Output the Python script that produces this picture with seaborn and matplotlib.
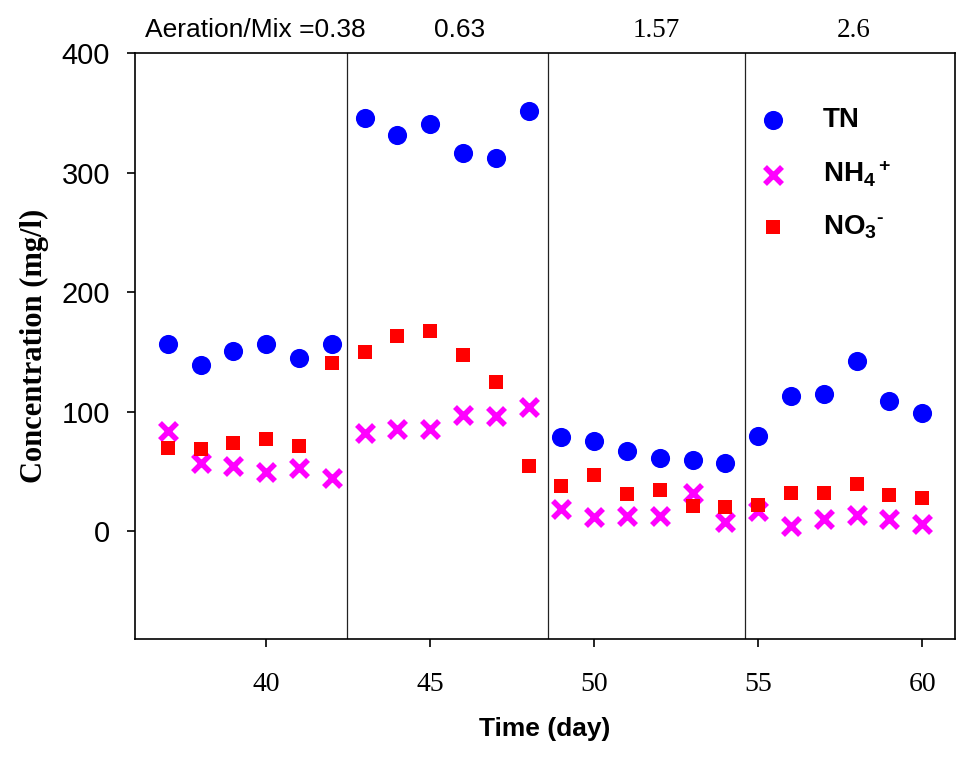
import numpy as np
import pandas as pd
import seaborn as sns
import matplotlib.pyplot as plt

# Jours et concentrations (mg/l)
days = list(range(37, 61))
tn = [156.5, 139, 150.5, 157, 145, 157,
      346, 331.6, 341, 316, 312, 351.7,
      78.6, 75.6, 67, 61.4, 59.4, 57,
      79.8, 113, 114.6, 142.5, 109, 98.8]
nh4 = [84, 57, 54.7, 50, 52.7, 44.6,
       82.6, 86, 86, 97, 96.5, 103.6,
       19, 11.7, 12.5, 12.5, 31.8, 7.8,
       17, 4.5, 10, 14, 10, 6.5]
no3 = [69.5, 68.6, 74, 77, 71, 141,
       150, 163, 167.6, 147.6, 125, 55,
       38, 46.9, 31, 34.3, 21, 20,
       22, 31.8, 31.8, 39.6, 30, 27.6]

# Changements de ratio aération/mélange
phase_breaks = [42.45, 48.6, 54.6]
phase_labels = ['Aeration/Mix =0.38', '0.63', '1.57', '2.6']
phase_label_x = [39.67, 45.9, 51.9, 57.9]

df = pd.DataFrame({'day': days, 'TN': tn, 'NH4': nh4, 'NO3': no3})

sns.set_theme(style='white')
plt.rcParams['font.family'] = ['Liberation Sans', 'DejaVu Sans']
plt.rcParams['text.color'] = 'black'
plt.rcParams['axes.labelcolor'] = 'black'
plt.rcParams['xtick.color'] = 'black'
plt.rcParams['ytick.color'] = 'black'
plt.rcParams['mathtext.fontset'] = 'custom'
plt.rcParams['mathtext.rm'] = 'Liberation Sans:bold'
plt.rcParams['mathtext.it'] = 'Liberation Sans:bold'
plt.rcParams['mathtext.bf'] = 'Liberation Sans:bold'

fig = plt.figure(figsize=(9.74, 7.66), dpi=100)
ax = fig.add_axes([0.1386, 0.1658, 0.8419, 0.765])

sns.scatterplot(data=df, x='day', y='TN', ax=ax, color='#0000ff', marker='o',
                s=190, linewidth=0, label='TN', zorder=3)
sns.scatterplot(data=df, x='day', y='NH4', ax=ax, color='#ff00ff', marker='x',
                s=150, linewidth=4, label=r'NH$_{\rm 4}$$^{\rm +}$', zorder=3)
sns.scatterplot(data=df, x='day', y='NO3', ax=ax, color='#ff0000', marker='s',
                s=100, linewidth=0, label='NO$_{\\rm 3}$$^{\\rm \u2010}$', zorder=3)

for xb in phase_breaks:
    ax.axvline(xb, color='#222222', linewidth=0.9, zorder=1)

for i, (lab, xl) in enumerate(zip(phase_labels, phase_label_x)):
    fam = ['Liberation Sans'] if i < 2 else ['Liberation Serif']
    fs = 19 if i < 2 else 19.5
    ax.text(xl, 419, lab, ha='center', va='center', fontsize=fs,
            family=fam, color='black', clip_on=False)

ax.set_xlim(36, 61)
ax.set_ylim(-90, 400)
ax.set_xticks([40, 45, 50, 55, 60])
ax.set_yticks([0, 100, 200, 300, 400])

for sp in ax.spines.values():
    sp.set_color('black')
    sp.set_linewidth(1.2)

ax.tick_params(axis='both', direction='out', length=6, width=1.2,
               color='black', bottom=True, left=True)
ax.tick_params(axis='x', pad=18)
ax.tick_params(axis='y', pad=12)
for t in ax.get_xticklabels():
    t.set_family(['Liberation Serif'])
    t.set_fontsize(20)
for t in ax.get_yticklabels():
    t.set_family(['Liberation Sans'])
    t.set_fontsize(21)

ax.set_xlabel('Time (day)', fontsize=19, fontweight='bold',
              family=['Liberation Sans'], labelpad=14)
ax.set_ylabel('Concentration (mg/l)', fontsize=22, fontweight='bold',
              family=['Liberation Serif'], labelpad=9)

leg = ax.legend(loc='upper left', bbox_to_anchor=(0.722, 0.95), frameon=False,
                handlelength=1.5, handletextpad=1.05, labelspacing=0.9,
                prop={'weight': 'bold', 'size': 20, 'family': 'Liberation Sans'})

fig.savefig('out.png', dpi=100)
plt.close(fig)
